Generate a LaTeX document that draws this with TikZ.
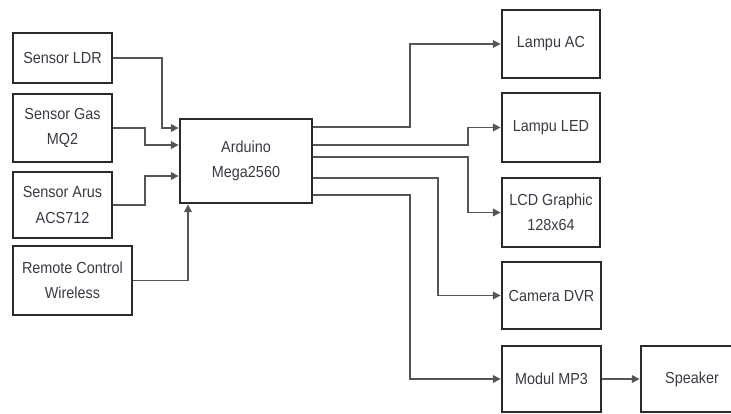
\documentclass[tikz,border=0pt]{standalone}
\usepackage{fontspec}
\setmainfont{Liberation Sans}[FakeStretch=0.9]
\usetikzlibrary{arrows.meta}
\definecolor{boxc}{HTML}{2A2A2A}
\definecolor{linec}{HTML}{555555}
\definecolor{txtc}{HTML}{3A3A44}
\begin{document}
\begin{tikzpicture}[x=1pt,y=-1pt,
  blk/.style={draw=boxc,line width=2.4pt,rectangle,inner sep=0pt,align=center,
    text=txtc,font=\fontsize{16}{25.5}\selectfont},
  arr/.style={draw=linec,line width=1.7pt,-{Triangle[length=8pt,width=7.5pt]}}]
\useasboundingbox (0,0) rectangle (731,414);
\fill[white] (0,0) rectangle (731,414);
% left column
\node[blk,minimum width=99pt,minimum height=50pt] (ldr) at (62.5,58) {Sensor LDR};
\node[blk,minimum width=99pt,minimum height=68pt] (gas) at (62.5,128) {Sensor Gas\\MQ2};
\node[blk,minimum width=99pt,minimum height=66pt] (arus) at (62.5,205) {Sensor Arus\\ACS712};
\node[blk,minimum width=119pt,minimum height=69pt] (rc) at (72.5,280.5) {Remote Control\\Wireless};
% centre
\node[blk,minimum width=132pt,minimum height=84pt] (ard) at (246,161) {Arduino\\Mega2560};
% right column
\node[blk,minimum width=98pt,minimum height=68pt] (lac) at (551,44) {Lampu AC};
\node[blk,minimum width=98pt,minimum height=69pt] (led) at (551,127.5) {Lampu LED};
\node[blk,minimum width=98pt,minimum height=69pt] (lcd) at (551,212.5) {LCD Graphic\\128x64};
\node[blk,minimum width=99pt,minimum height=67pt] (cam) at (551.5,295.5) {Camera DVR};
\node[blk,minimum width=99pt,minimum height=66pt] (mp3) at (551.5,379) {Modul MP3};
\node[blk,minimum width=102pt,minimum height=66pt] (spk) at (692,379) {Speaker};
% inputs
\draw[arr] (ldr.east) -| (162,128) -- (ard.west |- 0,128);
\draw[arr] (gas.east) -| (145,145) -- (ard.west |- 0,145);
\draw[arr] (arus.east) -| (145,176) -- (ard.west |- 0,176);
\draw[arr] (rc.east) -| (ard.south -| 188,0);
% outputs
\draw[arr] (ard.east |- 0,127) -| (410,44) -- (lac.west);
\draw[arr] (ard.east |- 0,145) -| (468,127.5) -- (led.west);
\draw[arr] (ard.east |- 0,157) -| (468,212.5) -- (lcd.west);
\draw[arr] (ard.east |- 0,178) -| (438,295.5) -- (cam.west);
\draw[arr] (ard.east |- 0,195) -| (410,379) -- (mp3.west);
\draw[arr] (mp3.east) -- (spk.west);
\end{tikzpicture}
\end{document}
